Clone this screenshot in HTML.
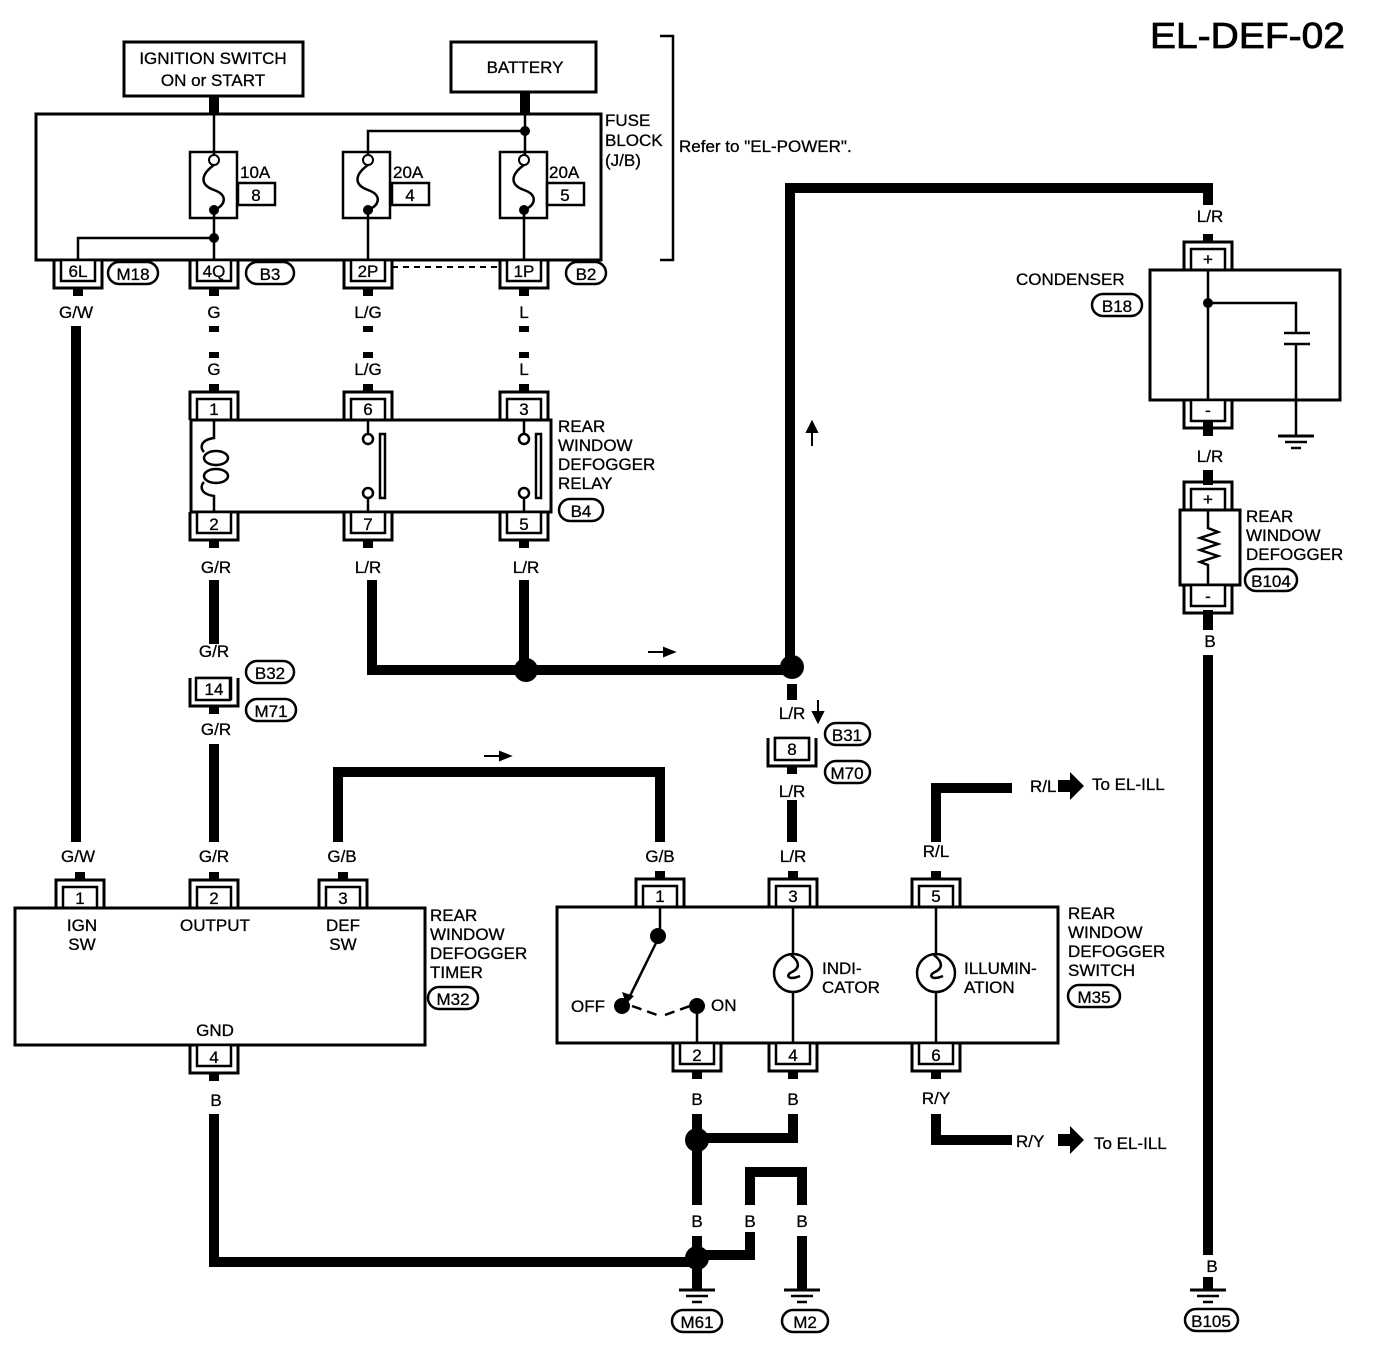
<!DOCTYPE html>
<html><head><meta charset="utf-8"><style>
html,body{margin:0;padding:0;background:#fff}
svg{display:block}
text{font-family:"Liberation Sans",Arial,sans-serif;font-size:17px;fill:#000;stroke:#000;stroke-width:0.3}
.t{font-size:17px}
</style></head><body>
<svg width="1392" height="1350" viewBox="0 0 1392 1350" xmlns="http://www.w3.org/2000/svg">
<defs>
<g id="ct"><path d="M-24 0 V-28 H24 V0" fill="none" stroke="#000" stroke-width="3"/><rect x="-17" y="-21" width="34" height="21" fill="#fff" stroke="#000" stroke-width="2.5"/><rect x="-5" y="-36" width="10" height="8" fill="#000"/></g>
<g id="cb"><path d="M-24 0 V28 H24 V0" fill="none" stroke="#000" stroke-width="3"/><rect x="-17" y="0" width="34" height="21" fill="#fff" stroke="#000" stroke-width="2.5"/><rect x="-5" y="28" width="10" height="8" fill="#000"/></g>
<g id="gnd"><line x1="-18" y1="0" x2="18" y2="0" stroke="#000" stroke-width="3"/><line x1="-11" y1="6" x2="11" y2="6" stroke="#000" stroke-width="2.5"/><line x1="-5" y1="12" x2="5" y2="12" stroke="#000" stroke-width="2.5"/></g>
</defs>
<text x="1150" y="48" style="font-size:36px;stroke-width:0.8" textLength="195" lengthAdjust="spacingAndGlyphs">EL-DEF-02</text>

<!-- top boxes -->
<rect x="124" y="42" width="179" height="54" fill="none" stroke="#000" stroke-width="3"/>
<text x="213" y="64" text-anchor="middle" class="t">IGNITION SWITCH</text>
<text x="213" y="86" text-anchor="middle" class="t">ON or START</text>
<rect x="451" y="42" width="145" height="50" fill="none" stroke="#000" stroke-width="3"/>
<text x="525" y="73" text-anchor="middle" class="t">BATTERY</text>
<rect x="209" y="96" width="10" height="18" fill="#000"/>
<rect x="520" y="92" width="10" height="22" fill="#000"/>
<!-- fuse block -->
<rect x="36" y="114" width="565" height="146" fill="none" stroke="#000" stroke-width="3"/>
<text x="605" y="126" class="t">FUSE</text>
<text x="605" y="146" class="t">BLOCK</text>
<text x="605" y="166" class="t">(J/B)</text>
<path d="M660 36 H673 V260 H660" fill="none" stroke="#000" stroke-width="2.5"/>
<text x="679" y="152" class="t">Refer to "EL-POWER".</text>
<g fill="none" stroke="#000" stroke-width="2.5">
<line x1="214" y1="114" x2="214" y2="160"/>
<line x1="525" y1="114" x2="525" y2="160"/>
<path d="M525 131 H368 V160"/>
<rect x="190" y="152" width="47" height="66"/>
<rect x="343" y="152" width="47" height="66"/>
<rect x="500" y="152" width="47" height="66"/>
<path d="M214 165 C200 175,200 185,214 190 C228 195,226 205,214 210"/>
<path d="M368 165 C354 175,354 185,368 190 C382 195,380 205,368 210"/>
<path d="M524 165 C510 175,510 185,524 190 C538 195,536 205,524 210"/>
<line x1="214" y1="210" x2="214" y2="260"/>
<line x1="368" y1="210" x2="368" y2="260"/>
<line x1="524" y1="210" x2="524" y2="260"/>
<path d="M214 238 H78 V260"/>
<rect x="238" y="183" width="37" height="22"/>
<rect x="392" y="183" width="37" height="22"/>
<rect x="547" y="183" width="37" height="22"/>
</g>
<g fill="#fff" stroke="#000" stroke-width="2"><circle cx="214" cy="160" r="5"/><circle cx="368" cy="160" r="5"/><circle cx="524" cy="160" r="5"/></g>
<g fill="#000"><circle cx="214" cy="210" r="5"/><circle cx="368" cy="210" r="5"/><circle cx="524" cy="210" r="5"/><circle cx="214" cy="238" r="5"/><circle cx="525" cy="131" r="5"/></g>
<text x="240" y="178" class="t">10A</text><text x="256" y="201" text-anchor="middle" class="t">8</text>
<text x="393" y="178" class="t">20A</text><text x="410" y="201" text-anchor="middle" class="t">4</text>
<text x="549" y="178" class="t">20A</text><text x="565" y="201" text-anchor="middle" class="t">5</text>

<!-- fuse block connectors -->
<use href="#cb" x="78" y="260"/><text x="78" y="277" text-anchor="middle" class="t">6L</text>
<use href="#cb" x="214" y="260"/><text x="214" y="277" text-anchor="middle" class="t">4Q</text>
<use href="#cb" x="368" y="260"/><text x="368" y="277" text-anchor="middle" class="t">2P</text>
<use href="#cb" x="524" y="260"/><text x="524" y="277" text-anchor="middle" class="t">1P</text>
<line x1="392" y1="267" x2="500" y2="267" stroke="#000" stroke-width="2" stroke-dasharray="6,5"/>
<g fill="none" stroke="#000" stroke-width="2.5">
<rect x="108" y="262" width="50" height="22" rx="11"/>
<rect x="246" y="262" width="48" height="22" rx="11"/>
<rect x="566" y="262" width="40" height="22" rx="11"/>
<rect x="825" y="723" width="45" height="22" rx="11"/>
<rect x="825" y="761" width="45" height="22" rx="11"/>
<rect x="246" y="661" width="48" height="22" rx="11"/>
<rect x="246" y="699" width="50" height="22" rx="11"/>
<rect x="559" y="499" width="44" height="22" rx="11"/>
<rect x="1092" y="294" width="50" height="22" rx="11"/>
<rect x="1245" y="569" width="52" height="22" rx="11"/>
<rect x="428" y="987" width="50" height="22" rx="11"/>
<rect x="1068" y="985" width="52" height="22" rx="11"/>
<rect x="672" y="1310" width="50" height="22" rx="11"/>
<rect x="782" y="1310" width="46" height="22" rx="11"/>
<rect x="1185" y="1309" width="53" height="22" rx="11"/>
</g>
<text x="133" y="280" text-anchor="middle" class="t">M18</text>
<text x="270" y="280" text-anchor="middle" class="t">B3</text>
<text x="586" y="280" text-anchor="middle" class="t">B2</text>
<text x="847" y="741" text-anchor="middle" class="t">B31</text>
<text x="847" y="779" text-anchor="middle" class="t">M70</text>
<text x="270" y="679" text-anchor="middle" class="t">B32</text>
<text x="271" y="717" text-anchor="middle" class="t">M71</text>
<text x="581" y="517" text-anchor="middle" class="t">B4</text>
<text x="1117" y="312" text-anchor="middle" class="t">B18</text>
<text x="1271" y="587" text-anchor="middle" class="t">B104</text>
<text x="453" y="1005" text-anchor="middle" class="t">M32</text>
<text x="1094" y="1003" text-anchor="middle" class="t">M35</text>
<text x="697" y="1328" text-anchor="middle" class="t">M61</text>
<text x="805" y="1328" text-anchor="middle" class="t">M2</text>
<text x="1211" y="1327" text-anchor="middle" class="t">B105</text>

<!-- wire labels top -->
<text x="76" y="318" text-anchor="middle" class="t">G/W</text>
<text x="214" y="318" text-anchor="middle" class="t">G</text>
<text x="368" y="318" text-anchor="middle" class="t">L/G</text>
<text x="524" y="318" text-anchor="middle" class="t">L</text>
<g fill="#000">
<rect x="209" y="326" width="10" height="6"/><rect x="363" y="326" width="10" height="6"/><rect x="519" y="326" width="10" height="6"/>
<rect x="209" y="352" width="10" height="6"/><rect x="363" y="352" width="10" height="6"/><rect x="519" y="352" width="10" height="6"/>
</g>
<text x="214" y="375" text-anchor="middle" class="t">G</text>
<text x="368" y="375" text-anchor="middle" class="t">L/G</text>
<text x="524" y="375" text-anchor="middle" class="t">L</text>

<!-- relay -->
<use href="#ct" x="214" y="420"/><text x="214" y="415" text-anchor="middle" class="t">1</text>
<use href="#ct" x="368" y="420"/><text x="368" y="415" text-anchor="middle" class="t">6</text>
<use href="#ct" x="524" y="420"/><text x="524" y="415" text-anchor="middle" class="t">3</text>
<rect x="191" y="420" width="360" height="92" fill="none" stroke="#000" stroke-width="3"/>
<use href="#cb" x="214" y="512"/><text x="214" y="530" text-anchor="middle" class="t">2</text>
<use href="#cb" x="368" y="512"/><text x="368" y="530" text-anchor="middle" class="t">7</text>
<use href="#cb" x="524" y="512"/><text x="524" y="530" text-anchor="middle" class="t">5</text>
<g fill="none" stroke="#000" stroke-width="2.5">
<path d="M214 420 V438 C200 440,200 448,204 452 M214 512 V496 C200 494,200 486,204 482"/>
<ellipse cx="216" cy="458" rx="12" ry="7"/><ellipse cx="216" cy="476" rx="12" ry="7"/>
<line x1="368" y1="420" x2="368" y2="434"/><circle cx="368" cy="439" r="5"/>
<line x1="368" y1="512" x2="368" y2="498"/><circle cx="368" cy="493" r="5"/>
<rect x="380" y="434" width="5" height="64"/>
<line x1="524" y1="420" x2="524" y2="434"/><circle cx="524" cy="439" r="5"/>
<line x1="524" y1="512" x2="524" y2="498"/><circle cx="524" cy="493" r="5"/>
<rect x="536" y="434" width="5" height="64"/>
</g>
<text x="558" y="432" class="t">REAR</text>
<text x="558" y="451" class="t">WINDOW</text>
<text x="558" y="470" class="t">DEFOGGER</text>
<text x="558" y="489" class="t">RELAY</text>

<text x="216" y="573" text-anchor="middle" class="t">G/R</text>
<text x="368" y="573" text-anchor="middle" class="t">L/R</text>
<text x="526" y="573" text-anchor="middle" class="t">L/R</text>

<!-- thick wires -->
<g fill="none" stroke="#000" stroke-width="10">
<line x1="76" y1="326" x2="76" y2="842"/>
<line x1="214" y1="580" x2="214" y2="644"/>
<line x1="214" y1="744" x2="214" y2="842"/>
<path d="M372 580 V670 H790"/>
<line x1="524" y1="580" x2="524" y2="670"/>
<path d="M790 667 V188 H1208 V205"/>
<line x1="792" y1="684" x2="792" y2="700"/>
<line x1="792" y1="800" x2="792" y2="842"/>
<path d="M338 842 V772 H660 V842"/>
<path d="M936 842 V788 H1012"/>
<path d="M936 1114 V1140 H1012"/>
<line x1="1208" y1="655" x2="1208" y2="1255"/>
<path d="M214 1114 V1262 H697"/>
<path d="M793 1114 V1138 H697"/>
<line x1="697" y1="1114" x2="697" y2="1205"/>
<line x1="697" y1="1236" x2="697" y2="1290"/>
<path d="M697 1255 H750 V1232"/>
<path d="M750 1205 V1172 H802 V1205"/>
<line x1="802" y1="1236" x2="802" y2="1290"/>
</g>
<g fill="#000">
<circle cx="526" cy="670" r="12"/><circle cx="792" cy="667" r="12"/>
<circle cx="697" cy="1140" r="12"/><circle cx="697" cy="1258" r="12"/>
<rect x="1203" y="400" width="10" height="30"/>
<rect x="1203" y="470" width="10" height="15"/>
<rect x="1203" y="610" width="10" height="20"/>
<rect x="1203" y="1277" width="10" height="13"/>
</g>
<use href="#gnd" x="697" y="1290"/>
<use href="#gnd" x="802" y="1290"/>
<use href="#gnd" x="1208" y="1290"/>
<text x="1212" y="1272" text-anchor="middle" class="t">B</text>

<!-- arrows small -->
<g fill="#000" stroke="#000" stroke-width="2">
<path d="M812 446 V430"/><path d="M807 432 L812 422 L817 432Z"/>
<path d="M648 652 H666"/><path d="M664 648 L674 652 L664 656Z"/>
<path d="M484 756 H502"/><path d="M500 752 L510 756 L500 760Z"/>
<path d="M818 700 V716"/><path d="M813 712 L818 722 L823 712Z"/>
</g>
<g fill="#000"><path d="M1058 780 H1070 V772 L1084 786 L1070 800 V792 H1058Z"/><path d="M1058 1134 H1070 V1126 L1084 1140 L1070 1154 V1146 H1058Z"/></g>

<text x="214" y="657" text-anchor="middle" class="t">G/R</text>
<use href="#cb" x="214" y="678"/>
<rect x="196" y="678" width="34" height="22" fill="#fff" stroke="#000" stroke-width="2.5"/>
<text x="214" y="695" text-anchor="middle" class="t">14</text>
<text x="216" y="735" text-anchor="middle" class="t">G/R</text>

<text x="792" y="719" text-anchor="middle" class="t">L/R</text>
<use href="#cb" x="792" y="738"/>
<rect x="775" y="738" width="34" height="22" fill="#fff" stroke="#000" stroke-width="2.5"/>
<text x="792" y="755" text-anchor="middle" class="t">8</text>
<text x="792" y="797" text-anchor="middle" class="t">L/R</text>

<!-- timer -->
<text x="78" y="862" text-anchor="middle" class="t">G/W</text>
<text x="214" y="862" text-anchor="middle" class="t">G/R</text>
<text x="342" y="862" text-anchor="middle" class="t">G/B</text>
<use href="#ct" x="80" y="908"/><text x="80" y="904" text-anchor="middle" class="t">1</text>
<use href="#ct" x="214" y="908"/><text x="214" y="904" text-anchor="middle" class="t">2</text>
<use href="#ct" x="343" y="908"/><text x="343" y="904" text-anchor="middle" class="t">3</text>
<rect x="15" y="908" width="410" height="137" fill="none" stroke="#000" stroke-width="3"/>
<text x="82" y="931" text-anchor="middle" class="t">IGN</text><text x="82" y="950" text-anchor="middle" class="t">SW</text>
<text x="215" y="931" text-anchor="middle" class="t">OUTPUT</text>
<text x="343" y="931" text-anchor="middle" class="t">DEF</text><text x="343" y="950" text-anchor="middle" class="t">SW</text>
<text x="215" y="1036" text-anchor="middle" class="t">GND</text>
<text x="430" y="921" class="t">REAR</text><text x="430" y="940" class="t">WINDOW</text><text x="430" y="959" class="t">DEFOGGER</text><text x="430" y="978" class="t">TIMER</text>
<use href="#cb" x="214" y="1045"/><text x="214" y="1063" text-anchor="middle" class="t">4</text>
<text x="216" y="1106" text-anchor="middle" class="t">B</text>

<!-- switch -->
<text x="660" y="862" text-anchor="middle" class="t">G/B</text>
<text x="793" y="862" text-anchor="middle" class="t">L/R</text>
<text x="936" y="857" text-anchor="middle" class="t">R/L</text>
<text x="1030" y="792" class="t">R/L</text><text x="1092" y="790" class="t">To EL-ILL</text>
<text x="1016" y="1147" class="t">R/Y</text><text x="1094" y="1149" class="t">To EL-ILL</text>
<use href="#ct" x="660" y="907"/><text x="660" y="902" text-anchor="middle" class="t">1</text>
<use href="#ct" x="793" y="907"/><text x="793" y="902" text-anchor="middle" class="t">3</text>
<use href="#ct" x="936" y="907"/><text x="936" y="902" text-anchor="middle" class="t">5</text>
<rect x="557" y="907" width="501" height="136" fill="none" stroke="#000" stroke-width="3"/>
<use href="#cb" x="697" y="1043"/><text x="697" y="1061" text-anchor="middle" class="t">2</text>
<use href="#cb" x="793" y="1043"/><text x="793" y="1061" text-anchor="middle" class="t">4</text>
<use href="#cb" x="936" y="1043"/><text x="936" y="1061" text-anchor="middle" class="t">6</text>
<g fill="none" stroke="#000" stroke-width="2.5">
<line x1="660" y1="907" x2="660" y2="935"/>
<line x1="656" y1="943" x2="628" y2="1000"/>
<path d="M632 1006 L660 1016" stroke-dasharray="10,6"/>
<path d="M665 1015 L690 1006" stroke-dasharray="10,6"/>
<line x1="697" y1="1006" x2="697" y2="1043"/>
<line x1="793" y1="907" x2="793" y2="955"/><circle cx="793" cy="973" r="19"/><line x1="793" y1="991" x2="793" y2="1043"/>
<path d="M791 955 C800 962,800 968,792 972 C785 975,788 981,800 976"/>
<line x1="936" y1="907" x2="936" y2="955"/><circle cx="936" cy="973" r="19"/><line x1="936" y1="991" x2="936" y2="1043"/>
<path d="M934 955 C943 962,943 968,935 972 C928 975,931 981,943 976"/>
</g>
<path d="M622 992 L626 1004 L634 996Z" fill="#000"/>
<g fill="#000"><circle cx="658" cy="936" r="8"/><circle cx="622" cy="1006" r="8"/><circle cx="697" cy="1006" r="8"/></g>
<text x="571" y="1012" class="t">OFF</text><text x="711" y="1011" class="t">ON</text>
<text x="822" y="974" class="t">INDI-</text><text x="822" y="993" class="t">CATOR</text>
<text x="964" y="974" class="t">ILLUMIN-</text><text x="964" y="993" class="t">ATION</text>
<text x="1068" y="919" class="t">REAR</text><text x="1068" y="938" class="t">WINDOW</text><text x="1068" y="957" class="t">DEFOGGER</text><text x="1068" y="976" class="t">SWITCH</text>
<text x="697" y="1105" text-anchor="middle" class="t">B</text>
<text x="793" y="1105" text-anchor="middle" class="t">B</text>
<text x="936" y="1104" text-anchor="middle" class="t">R/Y</text>
<text x="697" y="1227" text-anchor="middle" class="t">B</text>
<text x="750" y="1227" text-anchor="middle" class="t">B</text>
<text x="802" y="1227" text-anchor="middle" class="t">B</text>

<!-- condenser & defogger -->
<text x="1210" y="222" text-anchor="middle" class="t">L/R</text>
<use href="#ct" x="1208" y="270"/><text x="1208" y="265" text-anchor="middle" class="t">+</text>
<rect x="1150" y="270" width="190" height="130" fill="none" stroke="#000" stroke-width="3"/>
<use href="#cb" x="1208" y="400"/><text x="1208" y="416" text-anchor="middle" class="t">-</text>
<text x="1016" y="285" class="t">CONDENSER</text>
<g fill="none" stroke="#000" stroke-width="2.5">
<line x1="1208" y1="270" x2="1208" y2="400"/>
<path d="M1208 303 H1296 V333 M1284 333 H1310 M1284 344 H1310 M1296 344 V436"/>
</g>
<circle cx="1208" cy="303" r="5" fill="#000"/>
<use href="#gnd" x="1296" y="436"/>
<text x="1210" y="462" text-anchor="middle" class="t">L/R</text>
<use href="#ct" x="1208" y="510"/><text x="1208" y="505" text-anchor="middle" class="t">+</text>
<rect x="1180" y="510" width="60" height="75" fill="none" stroke="#000" stroke-width="3"/>
<use href="#cb" x="1208" y="585"/><text x="1208" y="602" text-anchor="middle" class="t">-</text>
<path d="M1208 510 V528 L1218 532 L1200 538 L1218 544 L1200 550 L1218 556 L1200 562 L1208 565 V585" fill="none" stroke="#000" stroke-width="2.5"/>
<text x="1246" y="522" class="t">REAR</text><text x="1246" y="541" class="t">WINDOW</text><text x="1246" y="560" class="t">DEFOGGER</text>
<text x="1210" y="647" text-anchor="middle" class="t">B</text>
</svg>
</body></html>
